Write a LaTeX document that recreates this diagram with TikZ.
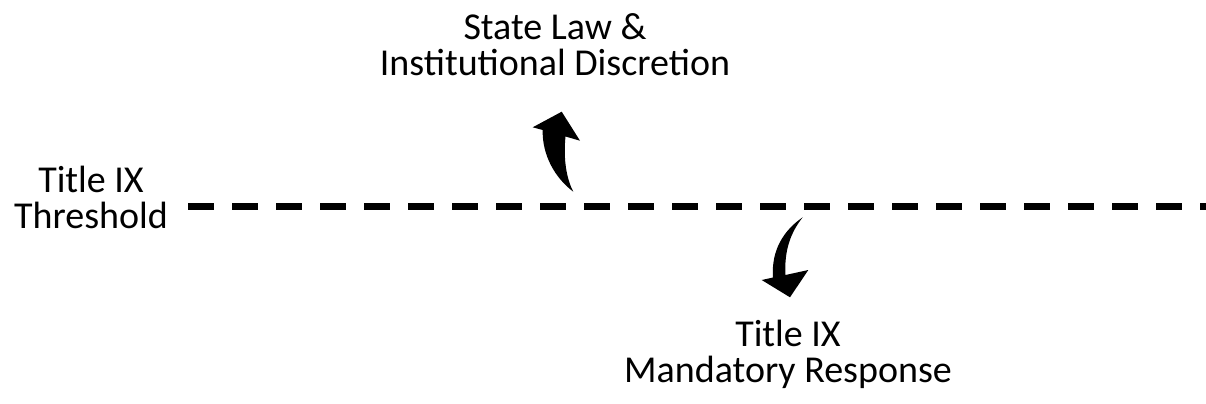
\documentclass[tikz,border=0pt]{standalone}
\usepackage{fontspec}
\setmainfont{Carlito}
\begin{document}
\begin{tikzpicture}[x=1bp,y=-1bp,
  lbl/.style={align=center,inner sep=0pt,anchor=base,font=\fontsize{38bp}{35.5bp}\selectfont},
  curvearrow/.style={fill=black,draw=none},
  thresh/.style={line width=7bp,dash pattern=on 26bp off 18bp}]
\useasboundingbox (0,0) rectangle (1206,403);
\coordinate (ls) at (188,206);
\coordinate (le) at (1206,206);
\draw[thresh] (ls) -- (le);
\node[lbl] (thr) at (91,228) {Title IX\\Threshold};
\node[lbl] (state) at (555,75) {State Law \&\\Institutional Discretion};
\node[lbl] (mand) at (788,382) {Title IX\\Mandatory Response};
% up arrow
\fill[curvearrow] (573.3,191.7) .. controls (555,178) and (542,155) .. (542.7,130)
  -- (532.7,127.3) -- (561.7,111.7) -- (580,140.7) -- (565.5,136.5)
  .. controls (563,160) and (567,180) .. (573.3,191.7) -- cycle;
% down arrow
\fill[curvearrow] (802.7,217.3) .. controls (784,230) and (771,250) .. (773,277.5)
  -- (761.7,280) -- (790,297.3) -- (808.3,270) -- (785.5,275)
  .. controls (784,250) and (791,232) .. (802.7,217.3) -- cycle;
\end{tikzpicture}
\end{document}
